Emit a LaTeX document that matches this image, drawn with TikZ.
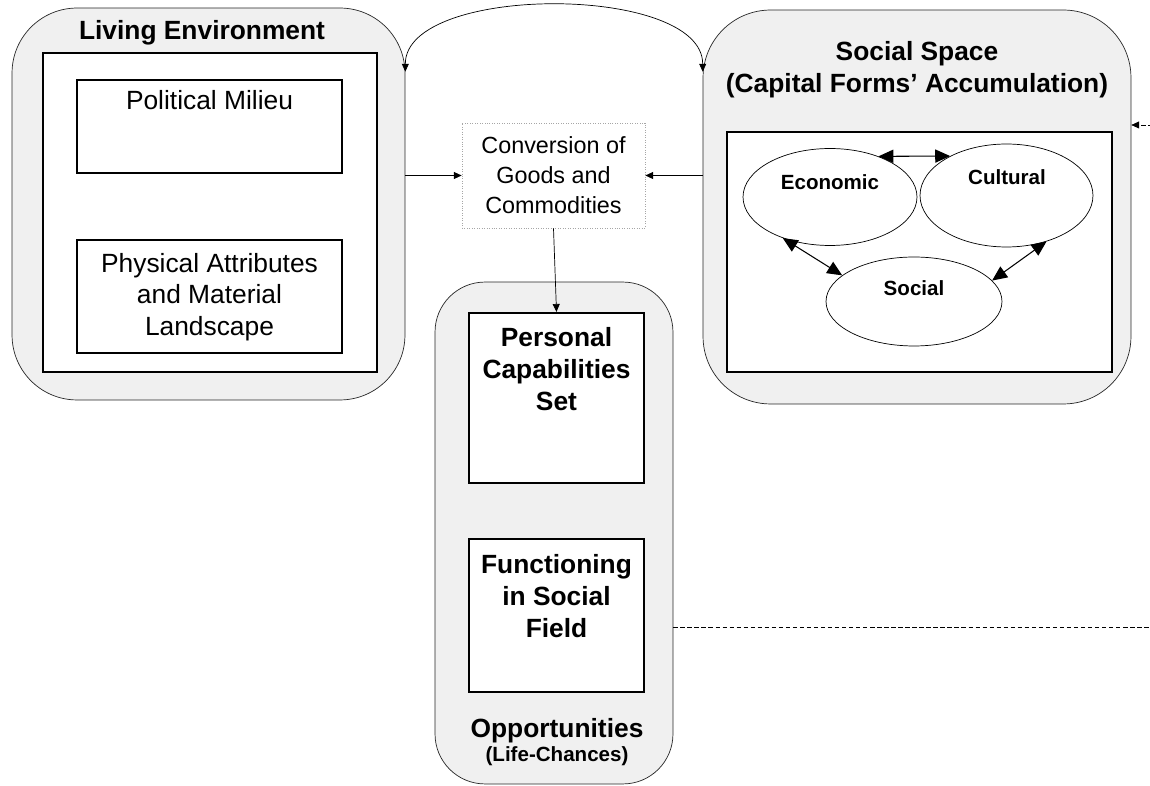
\documentclass[tikz,border=0pt]{standalone}
\usepackage{fontspec}
\setmainfont{Liberation Sans}
\usetikzlibrary{arrows.meta,positioning,shapes.geometric}

\begin{document}
\begin{tikzpicture}[x=0.02cm, y=-0.02cm,
  shell/.style={draw=black!85, fill=gray!12, thin},
  frame/.style={draw, line width=1.6pt, fill=white},
  item/.style={draw, line width=1.3pt, fill=white},
  capital/.style={ellipse, draw, thin, fill=white, inner sep=0pt},
  txt/.style={font=\fontsize{15}{18}\selectfont, align=center, inner sep=0pt},
  head/.style={font=\fontsize{15}{18}\selectfont\bfseries, align=center, inner sep=0pt},
  small/.style={font=\fontsize{11.7}{14}\selectfont\bfseries, align=center, inner sep=0pt},
  arr/.style={-{Triangle[length=4.5pt,width=4pt]}, thin},
  twoway/.style={{Triangle[length=8.5pt,width=7.5pt]}-{Triangle[length=8.5pt,width=7.5pt]}, semithick},
  fb/.style={dash pattern=on 2.5pt off 1.5pt, -{Triangle[length=4.5pt,width=4pt]}, thin}
]
\useasboundingbox (0,0) rectangle (1150,786);
\clip (0,0) rectangle (1150,786);

% ── Living environment ────────────────
\node[shell, rounded corners=1.3cm, minimum width=7.86cm, minimum height=7.84cm]
  (living) at (208.5,204) {};
\node[head] (livingT) at (202,33) {Living Environment};
\node[frame, minimum width=6.68cm, minimum height=6.38cm] (livingIn) at (210,212.5) {};
\node[item, minimum width=5.3cm, minimum height=1.86cm] (polit) at (209.5,126.5) {};
\node[txt] (politT) at (209.5,100) {Political Milieu};
\node[item, minimum width=5.3cm, minimum height=2.26cm] (phys) at (209.5,296.5) {};
\node[txt] (physT) at (209.5,297) {Physical Attributes\\and Material\\Landscape};

% ── Social space ──────────────────────
\node[shell, rounded corners=1.35cm, minimum width=8.56cm, minimum height=7.88cm]
  (social) at (917,207) {};
\node[head] (socialT) at (917,70) {Social Space\\(Capital Forms’ Accumulation)};
\node[frame, minimum width=7.7cm, minimum height=4.8cm] (socialIn) at (919.5,252) {};
\node[capital, minimum width=3.48cm, minimum height=1.94cm] (eco) at (830,197) {};
\node[capital, minimum width=3.46cm, minimum height=2.06cm] (cult) at (1006.5,195.5) {};
\node[capital, minimum width=3.52cm, minimum height=1.78cm] (soc) at (914,301.5) {};
\node[small] (ecoT) at (830,182) {Economic};
\node[small] (cultT) at (1007,177) {Cultural};
\node[small] (socT) at (914,288.5) {Social};
\draw[twoway] (eco.40) -- (cult.145);
\draw[twoway] (eco.221) -- (soc.160);
\draw[twoway] (cult.311) -- (soc.15);

% ── Conversion ────────────────────────
\node[draw=gray!70, densely dotted, thin, fill=white, minimum width=3.66cm,
  minimum height=2.1cm] (conv) at (553.5,175.5) {};
\node[font=\fontsize{13.3}{17}\selectfont, align=center, inner sep=0pt] (convT)
  at (553.5,175) {Conversion of\\Goods and\\Commodities};

% ── Opportunities ─────────────────────
\node[shell, rounded corners=1cm, minimum width=4.76cm, minimum height=10.04cm]
  (opp) at (554,533) {};
\node[item, minimum width=3.5cm, minimum height=3.4cm] (pers) at (556.5,398) {};
\node[head] (persT) at (556.5,369) {Personal\\Capabilities\\Set};
\node[item, minimum width=3.5cm, minimum height=3.06cm] (func) at (556.5,615.5) {};
\node[head] (funcT) at (556.5,596) {Functioning\\in Social\\Field};
\node[head] (oppT) at (557,731) {Opportunities};
\node[small] (oppS) at (557,756) {(Life-Chances)};

% ── Links ─────────────────────────────
\draw[{Triangle[length=4.5pt,width=4pt]}-{Triangle[length=4.5pt,width=4pt]}, thin]
  ([yshift=-1.28cm]living.north east) .. controls +(0,-88) and +(0,-88)
  .. ([yshift=-1.24cm]social.north west);
\draw[arr] (living.east |- conv.west) -- (conv.west);
\draw[arr] (social.west |- conv.east) -- (conv.east);
\draw[arr] (conv.south) -- (pers.north);
\coordinate (turn) at (1175,125);
\draw[fb] ([yshift=-1.88cm]opp.east) -| (turn) -- (turn -| social.east);
\end{tikzpicture}
\end{document}
